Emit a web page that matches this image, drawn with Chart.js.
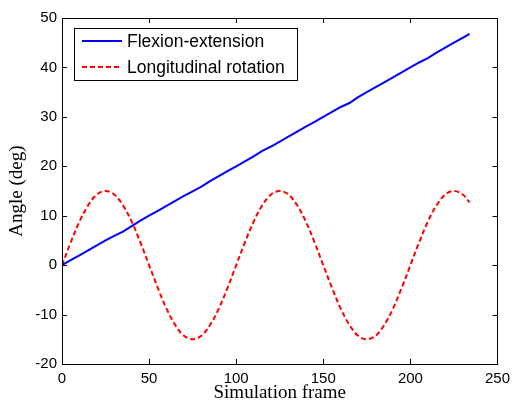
<!DOCTYPE html>
<html>
<head>
<meta charset="utf-8">
<script src="https://cdn.jsdelivr.net/npm/chart.js@4/dist/chart.umd.min.js"></script>
<style>
  html, body { margin: 0; padding: 0; background: #fff; }
  #wrap { width: 516px; height: 408px; }
</style>
</head>
<body>
<div id="wrap"><canvas id="chart"></canvas></div>
<script>
// values
const frames = [0, 5, 10, 15, 20, 25, 30, 35, 40, 45, 50, 55, 60, 65, 70, 75, 80, 85, 90, 95,
  100, 105, 110, 115, 120, 125, 130, 135, 140, 145, 150, 155, 160, 165, 170, 175, 180, 185, 190, 195,
  200, 205, 210, 215, 220, 225, 230, 234];
const flexion = [0, 1.0, 2.0, 3.0, 4.0, 5.0, 5.9, 6.8, 7.9, 9.0, 10.0, 11.0, 12.0, 13.0, 14.0, 14.9, 15.9, 17.0, 18.0, 19.0,
  20.0, 21.0, 22.0, 23.1, 24.0, 25.0, 26.0, 27.0, 28.0, 29.0, 30.0, 31.0, 32.0, 32.8, 34.0, 35.0, 36.0, 37.0, 38.0, 39.0,
  40.0, 41.0, 41.9, 43.0, 44.0, 45.0, 46.0, 46.8];
const rotation = [0, 4.6, 8.8, 12.1, 14.3, 15, 14.3, 12.1, 8.8, 4.6, 0, -4.6, -8.8, -12.1, -14.3, -15, -14.3, -12.1, -8.8, -4.6,
  0, 4.6, 8.8, 12.1, 14.3, 15, 14.3, 12.1, 8.8, 4.6, 0, -4.6, -8.8, -12.1, -14.3, -15, -14.3, -12.1, -8.8, -4.6,
  0, 4.6, 8.8, 12.1, 14.3, 15, 14.3, 12.7];
const xTicks = [0, 50, 100, 150, 200, 250];
const yTicks = [-20, -10, 0, 10, 20, 30, 40, 50];

const sansFont = "'Liberation Sans', Arial, sans-serif";
const serifFont = "'Liberation Serif', 'Times New Roman', serif";

// box, inward ticks and the legend inside the plot, matlab style
const boxPlugin = {
  id: "box",
  afterDraw(c) {
    const ctx = c.ctx;
    const a = c.chartArea;
    const x = c.scales.x, y = c.scales.y;
    ctx.save();
    ctx.strokeStyle = "#000";
    ctx.lineWidth = 1;
    ctx.beginPath();
    xTicks.forEach(v => {
      const px = Math.round(x.getPixelForValue(v)) + 0.5;
      ctx.moveTo(px, a.bottom); ctx.lineTo(px, a.bottom - 5);
      ctx.moveTo(px, a.top); ctx.lineTo(px, a.top + 5);
    });
    yTicks.forEach(v => {
      const py = Math.round(y.getPixelForValue(v)) + 0.5;
      ctx.moveTo(a.left, py); ctx.lineTo(a.left + 5, py);
      ctx.moveTo(a.right, py); ctx.lineTo(a.right - 5, py);
    });
    ctx.stroke();
    ctx.strokeRect(Math.round(a.left) + 0.5, Math.round(a.top) + 0.5,
      Math.round(a.right - a.left), Math.round(a.bottom - a.top));

    // legend
    const lx = a.left + 12, ly = a.top + 10, lw = 223, lh = 52;
    ctx.fillStyle = "#fff";
    ctx.fillRect(lx, ly, lw, lh);
    ctx.strokeRect(Math.round(lx) + 0.5, Math.round(ly) + 0.5, lw, lh);
    ctx.font = "17.5px " + sansFont;
    ctx.textBaseline = "middle";
    c.data.datasets.forEach((ds, i) => {
      const ry = ly + 13 + i * 26;
      ctx.strokeStyle = ds.borderColor;
      ctx.lineWidth = ds.borderWidth;
      ctx.setLineDash(ds.borderDash || []);
      ctx.beginPath();
      ctx.moveTo(lx + 8, ry); ctx.lineTo(lx + 48, ry);
      ctx.stroke();
      ctx.setLineDash([]);
      ctx.fillStyle = "#000";
      ctx.fillText(ds.label, lx + 53, ry + 1);
    });
    ctx.restore();
  }
};

const chart = new Chart(document.getElementById("chart"), {
  type: "line",
  data: {
    labels: frames,
    datasets: [{
      label: "Flexion-extension",
      data: frames.map((f, i) => ({ x: f, y: flexion[i] })),
      borderColor: "#0000ff",
      borderWidth: 2,
      pointRadius: 0,
      tension: 0
    }, {
      label: "Longitudinal rotation",
      data: frames.map((f, i) => ({ x: f, y: rotation[i] })),
      borderColor: "#ff0000",
      borderWidth: 2,
      borderDash: [5, 3],
      pointRadius: 0,
      tension: 0.35
    }]
  },
  options: {
    responsive: true,
    maintainAspectRatio: false,
    animation: false,
    layout: { padding: { top: 18, right: 15, left: 0, bottom: 0 } },
    plugins: { legend: { display: false }, tooltip: { enabled: false } },
    scales: {
      x: {
        type: "linear",
        min: 0, max: 250,
        afterBuildTicks: s => { s.ticks = xTicks.map(v => ({ value: v })); },
        afterFit: s => { s.height = 44; },
        grid: { display: false, drawTicks: false },
        border: { display: false },
        ticks: { color: "#000", font: { family: sansFont, size: 15 }, padding: 6, maxRotation: 0 },
        title: { display: true, text: "Simulation frame", color: "#000",
          font: { family: serifFont, size: 19 }, padding: { top: 4, bottom: 4 } }
      },
      y: {
        min: -20, max: 50,
        afterBuildTicks: s => { s.ticks = yTicks.map(v => ({ value: v })); },
        afterFit: s => { s.width = 62; },
        grid: { display: false, drawTicks: false },
        border: { display: false },
        ticks: { color: "#000", font: { family: sansFont, size: 15 }, padding: 5 },
        title: { display: true, text: "Angle (deg)", color: "#000",
          font: { family: serifFont, size: 19 }, padding: { top: 6, bottom: 0 } }
      }
    }
  },
  plugins: [boxPlugin]
});
</script>
</body>
</html>
